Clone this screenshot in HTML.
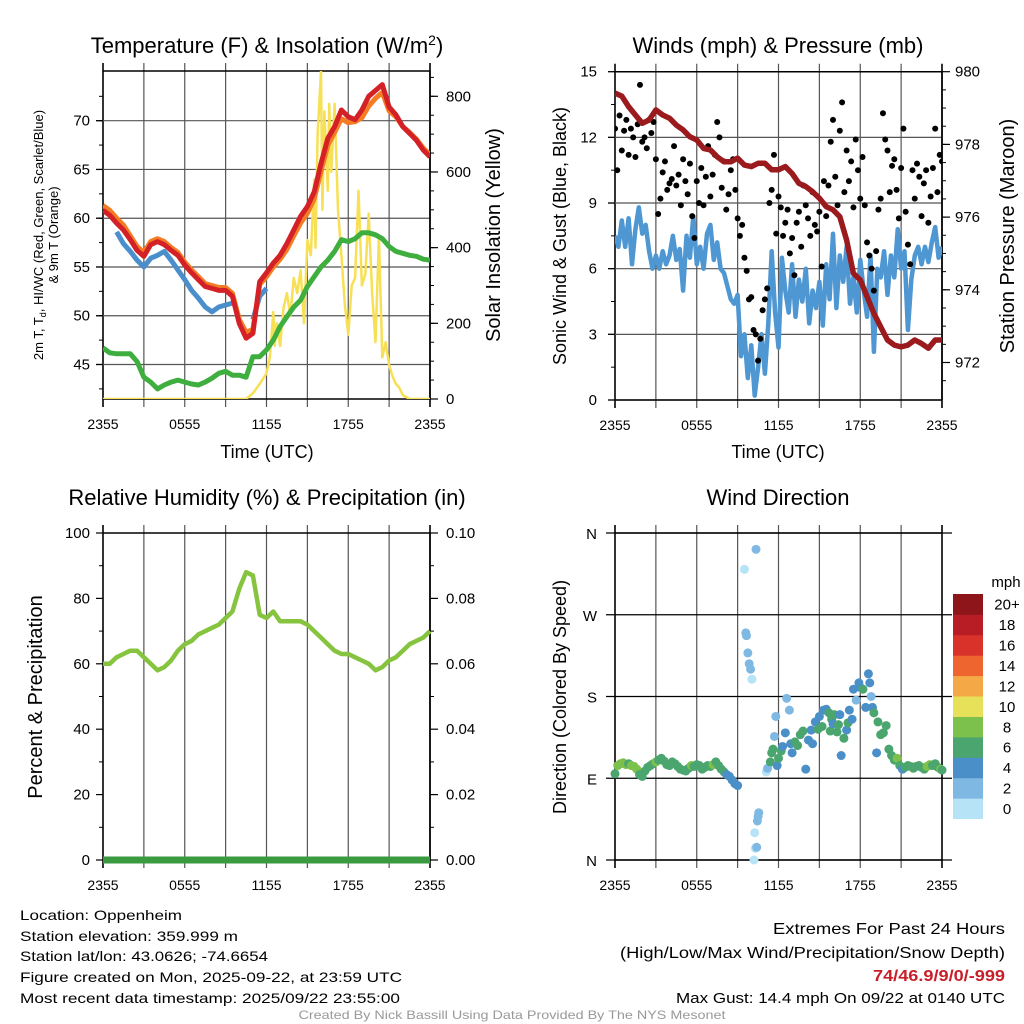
<!DOCTYPE html>
<html><head><meta charset="utf-8"><style>
body{margin:0;background:#fff}
svg{display:block;font-family:"Liberation Sans",sans-serif}
.t{font-size:14px;fill:#000}
.ttl{font-size:22px;fill:#000}
.lab{font-size:18px;fill:#000}
</style></head><body>
<svg id="c" width="1024" height="1024" viewBox="0 0 1024 1024" xmlns="http://www.w3.org/2000/svg">
<rect width="1024" height="1024" fill="#fff"/>
<g id="p1"></g>
<g id="p2"></g>
<g id="p3"></g>
<g id="p4"></g>

<text x="267" y="53" text-anchor="middle" class="ttl">Temperature (F) &amp; Insolation (W/m<tspan dy="-8" font-size="14">2</tspan><tspan dy="8">)</tspan></text>
<text x="778" y="53" text-anchor="middle" class="ttl">Winds (mph) &amp; Pressure (mb)</text>
<text x="267" y="505" text-anchor="middle" class="ttl">Relative Humidity (%) &amp; Precipitation (in)</text>
<text x="778" y="505" text-anchor="middle" class="ttl">Wind Direction</text>

<text x="267" y="458" text-anchor="middle" class="lab">Time (UTC)</text>
<text x="778" y="458" text-anchor="middle" class="lab">Time (UTC)</text>

<text transform="translate(43,235) rotate(-90)" text-anchor="middle" font-size="13">2m T, T<tspan font-size="9" dy="3">d</tspan><tspan dy="-3">, HI/WC (Red, Green, Scarlet/Blue)</tspan></text>
<text transform="translate(58,235) rotate(-90)" text-anchor="middle" font-size="13">&amp; 9m T (Orange)</text>
<text transform="translate(500,235) rotate(-90)" text-anchor="middle" font-size="20">Solar Insolation (Yellow)</text>
<text transform="translate(566,236) rotate(-90)" text-anchor="middle" class="lab">Sonic Wind &amp; Gust (Blue, Black)</text>
<text transform="translate(1014,236) rotate(-90)" text-anchor="middle" font-size="20">Station Pressure (Maroon)</text>
<text transform="translate(42,697) rotate(-90)" text-anchor="middle" font-size="20">Percent &amp; Precipitation</text>
<text transform="translate(566,697) rotate(-90)" text-anchor="middle" class="lab">Direction (Colored By Speed)</text>

<g class="t">
<text x="20" y="920" textLength="162" lengthAdjust="spacingAndGlyphs">Location: Oppenheim</text>
<text x="20" y="941" textLength="218" lengthAdjust="spacingAndGlyphs">Station elevation: 359.999 m</text>
<text x="20" y="961" textLength="248" lengthAdjust="spacingAndGlyphs">Station lat/lon: 43.0626; -74.6654</text>
<text x="20" y="982" textLength="382" lengthAdjust="spacingAndGlyphs">Figure created on Mon, 2025-09-22, at 23:59 UTC</text>
<text x="20" y="1003" textLength="380" lengthAdjust="spacingAndGlyphs">Most recent data timestamp: 2025/09/22 23:55:00</text>
</g>
<g>
<text x="1005" y="934" text-anchor="end" font-size="16" textLength="232" lengthAdjust="spacingAndGlyphs">Extremes For Past 24 Hours</text>
<text x="1005" y="958" text-anchor="end" font-size="16" textLength="385" lengthAdjust="spacingAndGlyphs">(High/Low/Max Wind/Precipitation/Snow Depth)</text>
<text x="1005" y="981" text-anchor="end" font-size="16" font-weight="bold" fill="#c8202a" textLength="132" lengthAdjust="spacingAndGlyphs">74/46.9/9/0/-999</text>
<text x="1005" y="1003" text-anchor="end" font-size="15" textLength="329" lengthAdjust="spacingAndGlyphs">Max Gust: 14.4 mph On 09/22 at 0140 UTC</text>
</g>
<text x="512" y="1019" text-anchor="middle" font-size="12" fill="#999" textLength="427" lengthAdjust="spacingAndGlyphs">Created By Nick Bassill Using Data Provided By The NYS Mesonet</text>
</svg>
<script>
// ---------- data ----------
const halfHourTimes = [0,0.5,1,1.5,2,2.5,3,3.5,4,4.5,5,5.5,6,6.5,7,7.5,8,8.5,9,9.5,10,10.5,11,11.5,12,12.5,13,13.5,14,14.5,15,15.5,16,16.5,17,17.5,18,18.5,19,19.5,20,20.5,21,21.5,22,22.5,23,23.5,24];
const tempRed = [60.8,60.3,59.5,58.8,57.8,56.7,56.1,57.3,57.6,57.3,56.7,56.2,55.2,54.4,53.7,53.0,52.8,52.6,52.6,52.0,49.2,47.7,48.2,53.5,54.4,55.4,56.2,57.4,58.8,60.2,61.2,62.7,65.6,68.2,69.4,71.1,70.4,70.1,71.1,72.5,73.1,73.7,71.4,70.6,69.4,68.7,68.0,67.0,66.3];
const temp9mOrange = [61.3,60.8,60.0,59.3,58.2,57.1,56.5,57.6,57.9,57.6,57.0,56.5,55.5,54.7,54.0,53.3,53.1,52.9,52.9,52.3,49.6,48.3,48.6,53.2,54.0,55.0,55.8,56.8,58.2,59.5,60.5,62.0,64.8,67.5,68.8,70.2,69.8,69.9,70.3,71.5,72.3,72.9,71.0,70.4,69.4,68.8,68.1,67.2,66.5];
const heatIndexBlue = [null,null,58.6,57.4,56.6,55.7,55.0,55.9,56.2,56.6,55.7,54.7,53.7,52.6,51.8,50.9,50.4,50.9,51.1,51.3,null,null,49.6,52.0,52.8,null,null,null,null,null,null,null,null,null,null,null,null,null,null,null,null,null,null,null,null,null,null,null,null];
const dewpointGreen = [46.7,46.2,46.1,46.1,46.1,45.3,43.7,43.2,42.5,42.9,43.2,43.4,43.2,43.0,42.9,43.2,43.6,44.1,44.3,43.9,43.9,43.7,45.8,45.8,46.5,47.5,48.9,49.9,50.9,51.6,53.0,54.0,55.0,55.7,56.6,57.8,57.6,57.9,58.5,58.5,58.3,57.9,57.1,56.6,56.4,56.2,56.1,55.8,55.7];
const solarHours = [0,10.5,11,11.5,12,12.25,12.5,12.6,12.75,13,13.25,13.5,13.75,14,14.25,14.5,14.75,15,15.25,15.5,15.6,15.75,16,16.1,16.25,16.5,16.6,16.75,17,17.25,17.5,17.75,18,18.25,18.5,18.75,19,19.25,19.5,19.75,20,20.25,20.5,20.75,21,21.25,21.5,21.75,22,22.5,24];
const solarValues = [0,0,15,40,68,110,230,140,200,140,240,280,220,320,280,340,200,420,380,580,400,700,866,500,760,550,780,600,780,500,380,250,170,300,320,550,300,330,490,280,150,430,110,150,90,60,40,30,10,0,0];
const pressureMb = [979.41,979.33,979.04,978.81,978.58,978.67,978.95,978.81,978.72,978.53,978.40,978.21,978.12,977.89,977.85,977.66,977.52,977.52,977.62,977.43,977.39,977.48,977.48,977.30,977.30,977.39,977.20,976.93,976.84,976.70,976.52,976.29,976.20,976.01,975.37,974.45,974.27,973.81,973.35,972.98,972.62,972.48,972.43,972.48,972.62,972.52,972.39,972.62,972.62];
const windMean = [7.5,7.0,8.2,7.0,8.3,6.2,7.8,8.8,7.6,8.0,6.8,6.0,6.6,6.0,6.8,6.2,6.6,7.5,6.4,6.9,5.0,7.5,6.5,8.4,6.2,7.0,6.0,7.6,8.0,6.4,7.2,6.0,5.8,5.2,4.6,4.4,4.8,2.0,3.0,1.0,2.5,0.2,1.5,3.0,1.2,3.5,6.8,4.0,2.4,6.5,5.0,4.0,6.2,3.8,5.5,4.5,6.0,3.5,5.0,4.2,5.4,3.4,6.2,4.6,7.6,4.2,6.6,5.4,7.0,4.4,5.6,4.0,6.4,5.0,3.8,6.6,2.2,6.0,5.6,6.8,4.8,6.6,5.6,7.8,6.0,6.8,3.2,5.5,6.6,7.0,6.2,7.0,6.3,7.2,7.9,6.5,7.0];
const windGust = [12.4,10.5,13.0,11.4,12.3,12.8, 11.2,12.4,12.0,11.1,12.6,14.4, 11.8,12.0,11.5,12.8,12.2,12.7, 11.0,8.5,9.2,10.4,10.9,9.6, 9.9,10.1,11.6,9.8,10.3,8.9, 11.0,10.0,9.4,10.8,8.4,7.4, 10.0,9.0,10.6,8.9,10.2,11.6, 9.3,10.3,11.2,12.7,12.0,9.7, 10.9,8.7,9.4,10.5,11.0,9.6, 8.3,7.5,8.0,6.5,5.9,4.6, 4.7,3.2,3.0,1.8,2.8,4.1, 4.6,5.1,9.0,9.6,11.2,7.6, 9.3,8.8,7.5,8.1,8.7,6.7, 7.4,5.7,8.1,8.6,7.0,9.8, 8.9,8.3,7.5,9.5,8.0,7.7, 8.6,6.1,10.0,8.4,9.8,11.8, 12.8,10.2,8.9,12.3,13.6,9.5, 11.4,10.0,10.9,8.8,11.9,10.5, 9.2,11.1,8.9,7.2,6.6,6.0, 5.0,6.8,8.7,9.2,13.1,11.9, 11.4,9.5,10.7,11.0,9.6,8.3, 10.6,12.4,8.6,7.1,6.2,10.5, 9.2,10.8,10.2,8.4,9.9,10.5, 8.1,9.3,10.6,12.4,9.5,11.2, 10.9];
const humidity = [60,60,62,63,64,64,62,60,58,59,61,64,66,67,69,70,71,72,74,76,83,88,87,75,74,76,73,73,73,73,72,70,68,66,64,63,63,62,61,60,58,59,61,62,64,66,67,68,70];
const precip = [0,0,0,0,0,0,0,0,0,0,0,0,0,0,0,0,0,0,0,0,0,0,0,0,0,0,0,0,0,0,0,0,0,0,0,0,0,0,0,0,0,0,0,0,0,0,0,0,0];
const dirHours = [0,0.2,0.4,0.6,0.8,1,1.2,1.4,1.6,1.8,2,2.2,2.4,2.6,2.8,3,3.2,3.4,3.6,3.8,4,4.2,4.4,4.6,4.8,5,5.2,5.4,5.6,5.8,6,6.2,6.4,6.6,6.8,7,7.2,7.4,7.6,7.8,8,8.2,8.4,8.6,8.8,9,
 9.5,9.6,9.65,9.75,9.85,9.95,10.05,10.35,10.2,10.3,10.4,10.25,10.45,10.55,10.5,
 11.1,11.2,11.4,11.5,11.6,11.7,11.8,11.9,12.0,12.2,12.3,12.5,12.6,12.8,12.9,13.0,13.2,13.4,13.6,13.8,14.0,14.2,14.4,14.5,14.7,14.9,15.0,15.2,15.3,15.5,15.7,15.8,15.9,16.0,16.1,16.3,16.4,16.5,16.6,16.8,17.0,17.1,17.2,17.4,17.5,17.7,17.9,18.0,18.2,18.4,18.6,18.7,18.8,18.9,19.0,19.2,19.3,19.5,19.7,19.9,20.1,20.3,20.5,20.7,20.9,21.1,21.3,21.5,21.7,21.9,22.1,22.3,22.5,22.7,22.9,23.1,23.3,23.5,23.7,23.9,24.0];
const dirDegrees = [95,104,106,107,105,106,104,103,100,94,92,98,102,104,106,108,110,112,109,105,104,108,106,103,100,99,98,101,104,103,105,104,100,102,104,103,105,108,104,100,97,94,92,88,84,82,
 320,250,247,228,216,210,199,342,0,13,14,30,43,52,48,
 97,101,108,118,122,136,158,104,112,120,125,140,178,165,128,118,130,126,138,142,100,132,143,128,152,144,158,147,165,166,162,142,155,150,160,141,149,160,115,134,143,151,165,155,188,176,195,190,188,168,205,195,180,168,162,118,152,138,140,148,122,115,110,112,104,100,102,104,103,101,103,104,102,100,103,105,104,106,102,100,99];
const dirSpeeds = [6,8,8,8,8,7,8,8,8,7,6,6,6,7,7,8,6,6,6,6,6,7,6,6,6,6,6,6,8,6,6,6,6,7,6,6,8,6,6,6,6,5,5,4,4,4,
 1,3,3,3,2,3,1,3,0,1,2,1,2,2,2,
 1,2,6,6,6,2,3,4,6,6,4,4,2,2,4,4,6,6,6,6,4,4,4,4,4,6,4,6,4,4,6,6,6,4,6,6,6,4,4,6,4,6,4,4,4,2,4,4,6,4,4,4,2,4,6,4,6,6,6,6,6,6,6,8,6,4,6,6,6,6,6,6,6,6,8,8,6,6,6,8,6];
const speedBinLabels = ["0","2","4","6","8","10","12","14","16","18","20+"];
const speedBinColors = ["#b6e3f6","#7fb9e3","#4a8fc8","#4aa56f","#7cc14b","#e7e15a","#f5a946","#ee6530","#d8322b","#b81c24","#8e161a"];
const xTickHours = [0,6,12,18,24];
const xTickLabels = ["2355","0555","1155","1755","2355"];

// ---------- helpers ----------
const NS = "http://www.w3.org/2000/svg";
function mk(tag, attrs, parent){const e=document.createElementNS(NS,tag);for(const k in attrs)e.setAttribute(k,attrs[k]);parent.appendChild(e);return e;}
function lin(d0,d1,r0,r1){return v=>r0+(v-d0)*(r1-r0)/(d1-d0);}
function linePath(xs,ys,fx,fy){let d="",pen=false;for(let i=0;i<xs.length;i++){if(ys[i]==null){pen=false;continue;}d+=(pen?"L":"M")+fx(xs[i]).toFixed(1)+","+fy(ys[i]).toFixed(1);pen=true;}return d;}
function txt(parent,x,y,s,anchor,size){const t=mk("text",{x:x,y:y,"text-anchor":anchor,"font-size":size||14},parent);t.textContent=s;return t;}

function frame(g, X0, X1, Y0, Y1, fx, hgrid){
  const grid=mk("g",{},g);
  
  
  for(let h=0;h<=24;h+=3){
    const x=fx(h);
    const edge=(h===0||h===24);
    mk("line",{x1:x,x2:x,y1:Y0-8,y2:Y1+8,stroke:edge?"#000":"#555","stroke-width":edge?1.6:1.2},grid);
  }
  (hgrid||[]).forEach(y=>mk("line",{x1:X0-7,x2:X1,y1:y,y2:y,stroke:"#555","stroke-width":1.2},grid));
  mk("line",{x1:X0,x2:X1,y1:Y0,y2:Y0,stroke:"#000","stroke-width":1.5},grid);
  mk("line",{x1:X0,x2:X1,y1:Y1,y2:Y1,stroke:"#000","stroke-width":1.5},grid);
  const lab=mk("g",{},g);
  
  
  xTickHours.forEach((h,i)=>{const t=txt(lab,fx(h),Y1+30,xTickLabels[i],"middle",14);
    
    });
}
function leftAxis(g,X0,X1,ticks,labels,minor,fy,lx){
  const a=mk("g",{},g);
  
  
  minor.forEach(v=>mk("line",{x1:X0-4,x2:X0,y1:fy(v),y2:fy(v),stroke:"#000"},a));
  ticks.forEach((v,i)=>{mk("line",{x1:X0-7,x2:X0,y1:fy(v),y2:fy(v),stroke:"#000","stroke-width":1.2},a);
    const t=txt(a,lx,fy(v)+5,labels[i],"end",15);
    
    });
}
function rightAxis(g,X1,ticks,labels,minor,fy,lx){
  const a=mk("g",{},g);
  
  
  mk("line",{x1:X1,x2:X1,y1:fy.top,y2:fy.bot,stroke:"#000","stroke-width":1.5},a);
  minor.forEach(v=>mk("line",{x1:X1,x2:X1+4,y1:fy(v),y2:fy(v),stroke:"#000"},a));
  ticks.forEach((v,i)=>{mk("line",{x1:X1,x2:X1+8,y1:fy(v),y2:fy(v),stroke:"#000","stroke-width":1.2},a);
    const t=txt(a,lx,fy(v)+5,labels[i],"start",15);
    
    });
}
function range(a,b,s){const r=[];for(let v=a;v<=b+1e-9;v+=s)r.push(+v.toFixed(4));return r;}

// ---------- panel 1 ----------
(function(){
  const g=document.getElementById("p1");
  const fx=lin(0,24,103,430), fy=lin(70,45,120.7,364.5), fs=lin(0,800,399,96.3);
  fs.top=71; fs.bot=399;
  const tT=[45,50,55,60,65,70];
  frame(g,103,430,71,399,fx,tT.map(fy));
  leftAxis(g,103,430,tT,tT.map(String),range(42.5,72.5,2.5),fy,90);
  rightAxis(g,430,[0,200,400,600,800],["0","200","400","600","800"],range(50,850,50),fs,446);
  const clip=mk("clipPath",{id:"c1"},g); mk("rect",{x:103,y:71,width:327,height:328},clip);
  const s=mk("g",{"clip-path":"url(#c1)"},g);
  const sol=mk("path",{d:linePath(solarHours,solarValues,fx,fs),fill:"none",stroke:"#f7e055","stroke-width":2.5,"stroke-linejoin":"round"},s);
  
  
  const dw=mk("path",{d:linePath(halfHourTimes,dewpointGreen,fx,fy),fill:"none",stroke:"#3eaf3e","stroke-width":5,"stroke-linejoin":"round"},s);
  
  
  const hi=mk("path",{d:linePath(halfHourTimes,heatIndexBlue,fx,fy),fill:"none",stroke:"#4a8fcc","stroke-width":5,"stroke-linejoin":"round"},s);
  
  
  const or=mk("path",{d:linePath(halfHourTimes,temp9mOrange,fx,fy),fill:"none",stroke:"#f47d23","stroke-width":5,"stroke-linejoin":"round"},s);
  
  
  const rd=mk("path",{d:linePath(halfHourTimes,tempRed,fx,fy),fill:"none",stroke:"#d42027","stroke-width":5,"stroke-linejoin":"round"},s);
  
  
})();

// ---------- panel 2 ----------
(function(){
  const g=document.getElementById("p2");
  const fx=lin(0,24,615,942), fy=lin(0,15,400,71.7), fp=lin(980,972,71.7,362.5);
  fp.top=71.7; fp.bot=400;
  const tW=[0,3,6,9,12,15];
  frame(g,615,942,71.7,400,fx,tW.map(fy));
  leftAxis(g,615,942,tW,tW.map(String),range(1.5,13.5,3),fy,597);
  rightAxis(g,942,[972,974,976,978,980],["972","974","976","978","980"],range(971.5,979.5,0.5),fp,955);
  const clip=mk("clipPath",{id:"c2"},g); mk("rect",{x:615,y:68,width:327,height:336},clip);
  const s=mk("g",{"clip-path":"url(#c2)"},g);
  const windTimes=windMean.map((v,i)=>i*0.25);
  const wm=mk("path",{d:linePath(windTimes,windMean,fx,fy),fill:"none",stroke:"#4e97d2","stroke-width":4.5,"stroke-linejoin":"round"},s);
  
  
  const gg=mk("g",{},s);
  
  
  windGust.forEach((v,i)=>{const c=mk("circle",{cx:fx(i/6),cy:fy(v),r:3,fill:"#000"},gg);
    
    });
  const pr=mk("path",{d:linePath(halfHourTimes,pressureMb,fx,fp),fill:"none",stroke:"#9a1a1d","stroke-width":5.5,"stroke-linejoin":"round"},s);
  
  
})();

// ---------- panel 3 ----------
(function(){
  const g=document.getElementById("p3");
  const fx=lin(0,24,103,430), fy=lin(0,100,860,533), fr=lin(0,0.1,860,533);
  fr.top=533; fr.bot=860;
  frame(g,103,430,533,860,fx,[]);
  const tR=[0,20,40,60,80,100];
  leftAxis(g,103,430,tR,tR.map(String),range(10,90,20),fy,90);
  rightAxis(g,430,[0,0.02,0.04,0.06,0.08,0.1],["0.00","0.02","0.04","0.06","0.08","0.10"],range(0.01,0.09,0.02),fr,446);
  const pp=mk("path",{d:linePath(halfHourTimes,precip,fx,fr),fill:"none",stroke:"#3a9a3f","stroke-width":7},g);
  
  
  const rh=mk("path",{d:linePath(halfHourTimes,humidity,fx,fy),fill:"none",stroke:"#86c440","stroke-width":4.5,"stroke-linejoin":"round"},g);
  
  
})();

// ---------- panel 4 ----------
(function(){
  const g=document.getElementById("p4");
  const fx=lin(0,24,615,942), fy=lin(0,360,860,533);
  const dT=[0,90,180,270,360], dL=["N","E","S","W","N"];
  frame(g,615,942,533,860,fx,[]);
  const a=mk("g",{},g);
  
  
  dT.forEach((v,i)=>{mk("line",{x1:606,x2:952,y1:fy(v),y2:fy(v),stroke:"#000","stroke-width":1.2},a);
    const t=txt(a,597,fy(v)+6,dL[i],"end",15);
    
    });
  const dots=mk("g",{},g);
  
  
  dirHours.forEach((h,i)=>{const b=Math.min(10,Math.floor(dirSpeeds[i]/2));
    const c=mk("circle",{cx:fx(h),cy:fy(dirDegrees[i]),r:4.5,fill:speedBinColors[b]},dots);
    
    });
  // colorbar
  const cb=mk("g",{},g);
  
  
  const t=txt(cb,1006,587,"mph","middle",15);
  
  
  const h=224.7/speedBinLabels.length;
  speedBinLabels.forEach((l,i)=>{const k=speedBinLabels.length-1-i;
    const r=mk("rect",{x:953,y:594+k*h,width:30,height:h+0.4,fill:speedBinColors[i]},cb);
    
    
    const lt=txt(cb,1007,594+k*h+h/2+5.5,l,"middle",15);
    
    });
})();
</script>
</body></html>
